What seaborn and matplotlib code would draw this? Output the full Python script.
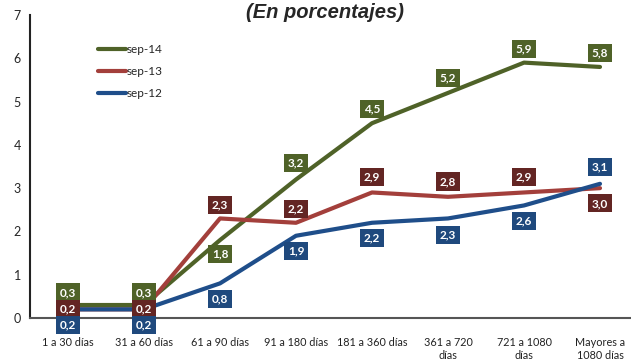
import matplotlib
matplotlib.use("Agg")
import matplotlib.pyplot as plt
import seaborn as sns
import pandas as pd

categories = ["1 a 30 días", "31 a 60 días", "61 a 90 días", "91 a 180 días",
              "181 a 360 días", "361 a 720\ndías", "721 a 1080\ndías", "Mayores a\n1080 días"]
sep14 = [0.3, 0.3, 1.8, 3.2, 4.5, 5.2, 5.9, 5.8]
sep13 = [0.2, 0.2, 2.3, 2.2, 2.9, 2.8, 2.9, 3.0]
sep12 = [0.2, 0.2, 0.8, 1.9, 2.2, 2.3, 2.6, 3.1]
series_names = ["sep-14", "sep-13", "sep-12"]

line_colors = {"sep-14": "#4F6228", "sep-13": "#A33F3B", "sep-12": "#1F4E8A"}
box_colors = {"sep-14": "#4F6228", "sep-13": "#632523", "sep-12": "#1F497D"}
# label offsets (points) above/below the line
offsets = {
    "sep-14": [9, 9, -10, 12, 10, 11, 10, 10],
    "sep-13": [0, 0, 10, 10, 11, 11, 11, -11],
    "sep-12": [-11, -11, -11, -11, -11, -12, -11, 12],
}

rows = []
for name, vals in zip(series_names, [sep14, sep13, sep12]):
    for i, v in enumerate(vals):
        rows.append({"x": i, "valor": v, "serie": name})
df = pd.DataFrame(rows)

sns.set_style("white")
plt.rcParams["font.family"] = ["Lato", "DejaVu Sans"]

fig = plt.figure(figsize=(6.31, 3.62), dpi=100)
ax = fig.add_axes([30 / 631, 44 / 362, 608 / 631, 303 / 362])

sns.lineplot(data=df, x="x", y="valor", hue="serie", palette=line_colors,
             hue_order=series_names, linewidth=3, ax=ax, legend=False,
             solid_capstyle="round")

for name, vals in zip(series_names, [sep14, sep13, sep12]):
    for i, v in enumerate(vals):
        ax.annotate(f"{v:.1f}".replace(".", ","), (i, v), xytext=(0, offsets[name][i]),
                    textcoords="offset points", ha="center", va="center",
                    color="white", fontsize=8.5, fontweight="bold",
                    bbox=dict(boxstyle="square,pad=0.3", fc=box_colors[name], ec="none"))

ax.set_xlim(-0.5, 7.5)
ax.set_ylim(0, 7)
ax.set_yticks(range(8))
ax.set_xticks(range(8))
ax.set_xticklabels(categories, fontsize=7.8, color="#222222", linespacing=1.15)
ax.set_xticks([i - 0.5 for i in range(9)], minor=True)
ax.tick_params(axis="x", which="major", length=0, pad=14)
ax.tick_params(axis="x", which="minor", length=3, width=1, direction="out", color="#333333")
ax.tick_params(axis="y", length=3, width=1, direction="out", labelsize=9, color="#222222")
ax.set_xlabel("")
ax.set_ylabel("")
sns.despine(ax=ax)
ax.spines["left"].set_color("#222222")
ax.spines["left"].set_linewidth(1.5)
ax.spines["bottom"].set_color("#555555")
ax.spines["bottom"].set_linewidth(1.5)

handles = [plt.Line2D([], [], color=line_colors[n], lw=3, solid_capstyle="round") for n in series_names]
ax.legend(handles, series_names, loc="upper left", bbox_to_anchor=(0.095, 0.94),
          frameon=False, fontsize=8.5, handlelength=2.3, handletextpad=0.1, labelspacing=0.95)

fig.text(0.515, 1 - 12 / 362, "(En porcentajes)", ha="center", va="center",
         fontsize=14.5, fontweight="bold", fontstyle="italic", family="Liberation Sans")

fig.savefig("out.png", dpi=100)
